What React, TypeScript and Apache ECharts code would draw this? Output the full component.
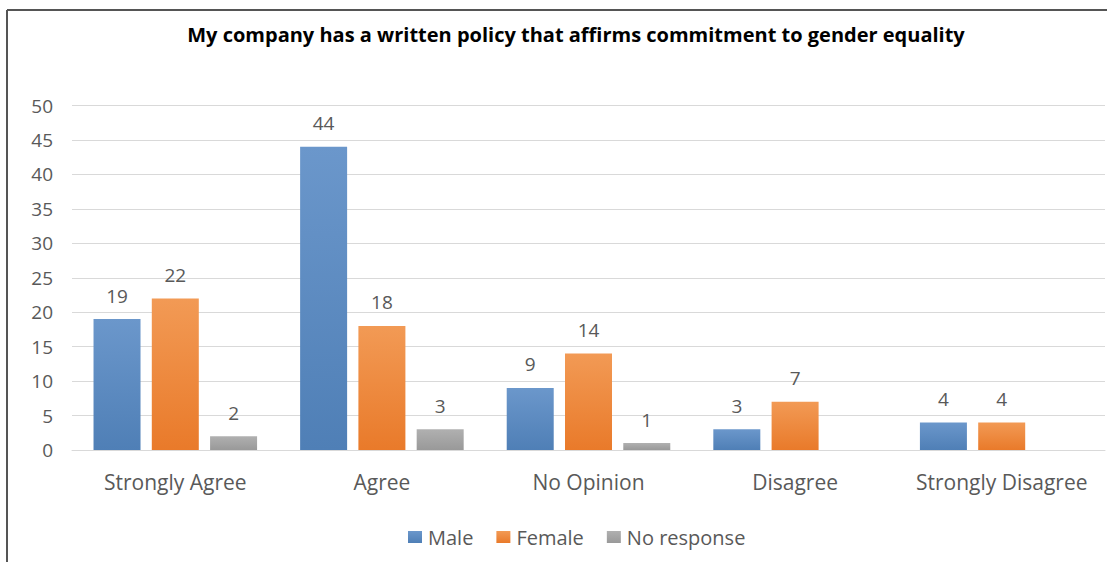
import React, { useEffect, useRef } from "react";
import * as echarts from "echarts";

const categories = ["Strongly Agree", "Agree", "No Opinion", "Disagree", "Strongly Disagree"];
const maleValues = [19, 44, 9, 3, 4];
const femaleValues = [22, 18, 14, 7, 4];
const noResponseValues: (number | null)[] = [2, 3, 1, null, null];
const titleText = "My company has a written policy that affirms commitment to gender equality";

const FONT = "'Open Sans', 'Noto Sans', sans-serif";

function grad(top: string, bottom: string) {
  return new echarts.graphic.LinearGradient(0, 0, 0, 1, [
    { offset: 0, color: top },
    { offset: 1, color: bottom },
  ]);
}

export default function App() {
  const ref = useRef<HTMLDivElement>(null);
  useEffect(() => {
    if (!ref.current) return;
    const chart = echarts.init(ref.current, null, { renderer: "svg" });
    const label = {
      show: true,
      position: "top" as const,
      distance: 14,
      color: "#595959",
      fontSize: 19,
      fontFamily: FONT,
    };
    chart.setOption({
      animation: false,
      backgroundColor: "#ffffff",
      title: {
        text: titleText,
        left: 571,
        textAlign: "center",
        top: 19,
        textStyle: { fontSize: 20, fontWeight: "bold", color: "#000", fontFamily: FONT },
      },
      graphic: [
        { type: "line", shape: { x1: 7, y1: 10, x2: 1107, y2: 10 }, style: { stroke: "#555", lineWidth: 2 } },
        { type: "line", shape: { x1: 7, y1: 10, x2: 7, y2: 562 }, style: { stroke: "#555", lineWidth: 2 } },
      ],
      legend: {
        left: 403,
        top: 522,
        itemWidth: 14,
        itemHeight: 12,
        itemGap: 23,
        icon: "rect",
        textStyle: { color: "#595959", fontSize: 20, fontFamily: FONT, padding: [0, 0, 0, 1] },
        data: ["Male", "Female", "No response"],
      },
      grid: { left: 72, right: 2, top: 105.5, bottom: 112, containLabel: false },
      xAxis: {
        type: "category",
        data: categories,
        axisLine: { lineStyle: { color: "#d9d9d9" } },
        axisTick: { show: false },
        axisLabel: { interval: 0, color: "#595959", fontSize: 21, fontFamily: FONT, margin: 21 },
      },
      yAxis: {
        type: "value",
        min: 0,
        max: 50,
        interval: 5,
        axisLine: { show: false },
        axisTick: { show: false },
        splitLine: { lineStyle: { color: "#d9d9d9", width: 1 } },
        axisLabel: { color: "#595959", fontSize: 19, fontFamily: FONT, margin: 19 },
      },
      series: [
        {
          name: "Male",
          type: "bar",
          data: maleValues,
          barWidth: 47,
          barGap: "24%",
          itemStyle: { color: grad("#6b97cb", "#4f7fb6") },
          label,
        },
        {
          name: "Female",
          type: "bar",
          data: femaleValues,
          barWidth: 47,
          barGap: "24%",
          itemStyle: { color: grad("#f29a55", "#e97a2a") },
          label,
        },
        {
          name: "No response",
          type: "bar",
          data: noResponseValues,
          barWidth: 47,
          barGap: "24%",
          itemStyle: { color: grad("#b0b0b0", "#999999") },
          label,
        },
      ],
    });
    return () => chart.dispose();
  }, []);
  return (
    <div
      ref={ref}
      style={{ position: "absolute", left: 0, top: 0, width: 1107, height: 562 }}
    />
  );
}
